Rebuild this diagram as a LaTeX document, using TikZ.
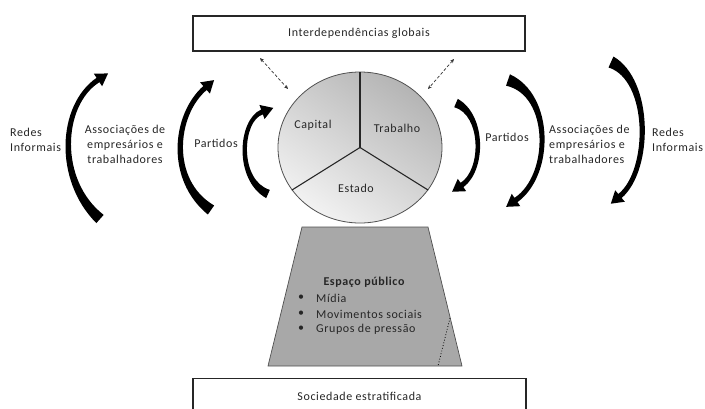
\documentclass[tikz,border=0pt]{standalone}
\usepackage{fontspec}
\setmainfont{Carlito}[LetterSpace=5]
\usetikzlibrary{calc,arrows.meta,shapes.geometric}
\definecolor{txt}{HTML}{262626}
\definecolor{trap}{HTML}{A8A8A8}
\definecolor{edge}{HTML}{505050}
\definecolor{pietop}{HTML}{B4B4B4}
\definecolor{piebot}{HTML}{F2F2F2}
\newcommand\curvedarr[3]{%
  \fill[black] ($(#1T)!#2!90:(#1A)$)
    .. controls ($(#1A)!#3!90:(#1B)$) and ($(#1B)!#3!-90:(#1A)$) .. ($(#1H)!2.6pt!-90:(#1B)$)
    -- ($(#1H)!7.5pt!-90:(#1B)$) -- ($(#1H)!12pt!180:(#1B)$) -- ($(#1H)!7.5pt!90:(#1B)$)
    -- ($(#1H)!2.6pt!90:(#1B)$)
    .. controls ($(#1B)!#3!90:(#1A)$) and ($(#1A)!#3!-90:(#1B)$) .. ($(#1T)!#2!-90:(#1A)$) -- cycle;}
\begin{document}
\begin{tikzpicture}[x=1pt,y=-1pt,
  every node/.style={font=\fontsize{12}{15}\selectfont, text=txt, inner sep=0pt},
  box/.style={draw=black!85, line width=1.2pt, fill=white},
  dasharr/.style={dashed, dash pattern=on 3pt off 2pt, line width=0.7pt, black!80,
     {Stealth[length=4pt,width=3.5pt]}-{Stealth[length=4pt,width=3.5pt]}},
  divline/.style={line width=1.1pt, black!85}]
\useasboundingbox (0,0) rectangle (705,408);
\clip (0,0) rectangle (705,408);

% boxes
\node[box, minimum width=332pt, minimum height=35pt] (glob) at (359,33.5) {Interdependências globais};
\node[box, minimum width=333pt, minimum height=36pt, anchor=north] (soc) at (359.5,378) {Sociedade estratificada};

% pie
\node[ellipse, minimum width=164pt, minimum height=151pt, draw=edge, line width=0.8pt,
  top color=pietop, bottom color=piebot, shading angle=-35] (pie) at (360,147.5) {};
\draw[divline] (pie.center) -- (pie.north);
\draw[divline] (pie.center) -- (pie.212);
\draw[divline] (pie.center) -- (pie.328);
\node (cap) at (313,125) {Capital};
\node (trab) at (397,128) {Trabalho};
\node (est) at (356,188) {Estado};

% dashed arrows
\coordinate (d1a) at (260,58); \coordinate (d1b) at (288,89);
\coordinate (d2a) at (454,59); \coordinate (d2b) at (428,89);
\draw[dasharr] (d1a) -- (d1b);
\draw[dasharr] (d2a) -- (d2b);

% public space trapezoid
\coordinate (t1) at (302,227); \coordinate (t2) at (428,227);
\coordinate (t3) at (462,366); \coordinate (t4) at (268,366);
\draw[fill=trap, draw=edge, line width=0.7pt] (t1) -- (t2) -- (t3) -- (t4) -- cycle;
\coordinate (q1) at (450,318); \coordinate (q2) at (438,366);
\draw[dotted, line width=0.8pt, black] (q1) -- (q2);
\node[font=\fontsize{12}{15}\selectfont\bfseries] (esp) at (364,282) {Espaço público};
\node (b1) at (301,298) {•};
\node (b2) at (301,314) {•};
\node (b3) at (301,329) {•};
\node[anchor=west] (m1) at (316,298) {Mídia};
\node[anchor=west] (m2) at (316,314) {Movimentos sociais};
\node[anchor=west] (m3) at (316,329) {Grupos de pressão};

% side labels
\node[anchor=west, align=left] (rl) at (10,139.5) {Redes\\Informais};
\node[align=center] (al) at (125,144) {Associações de\\empresários e\\trabalhadores};
\node (pl) at (216,143) {Partidos};
\node (pr) at (507,137) {Partidos};
\node[anchor=west, align=left] (ar) at (549,144) {Associações de\\empresários e\\trabalhadores};
\node[anchor=west, align=left] (rr) at (652,139.5) {Redes\\Informais};

% curved arrows: T tail, A/B controls, H head base
\coordinate (loT) at (100,219); \coordinate (loA) at (56,180); \coordinate (loB) at (60,105); \coordinate (loH) at (98,80);
\coordinate (lmT) at (211,210); \coordinate (lmA) at (168,180); \coordinate (lmB) at (174,115); \coordinate (lmH) at (205,88);
\coordinate (liT) at (268,194); \coordinate (liA) at (236,180); \coordinate (liB) at (240,120); \coordinate (liH) at (262,112);
\coordinate (riT) at (456,103); \coordinate (riA) at (484,115); \coordinate (riB) at (484,170); \coordinate (riH) at (462,185);
\coordinate (rmT) at (508,80); \coordinate (rmA) at (552,95); \coordinate (rmB) at (552,175); \coordinate (rmH) at (516,200);
\coordinate (roT) at (611,62); \coordinate (roA) at (651,80); \coordinate (roB) at (651,170); \coordinate (roH) at (620,196);
\curvedarr{lo}{5.5pt}{2.8pt}
\curvedarr{lm}{5.5pt}{2.8pt}
\curvedarr{li}{4.5pt}{2.5pt}
\curvedarr{ri}{4.5pt}{2.5pt}
\curvedarr{rm}{6pt}{2.8pt}
\curvedarr{ro}{6pt}{2.8pt}
\end{tikzpicture}
\end{document}
